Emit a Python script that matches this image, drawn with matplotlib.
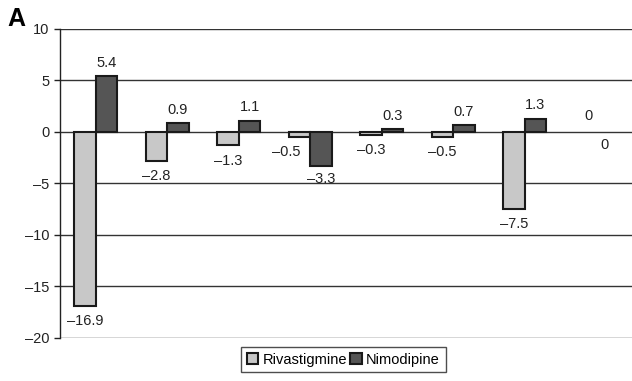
import matplotlib
matplotlib.use("Agg")
import matplotlib.pyplot as plt
import numpy as np
from matplotlib.ticker import FuncFormatter

plt.rcParams['font.family'] = ['Liberation Sans', 'DejaVu Sans']

groups = list(range(8))
rivastigmine = [-16.9, -2.8, -1.3, -0.5, -0.3, -0.5, -7.5, 0]
nimodipine = [5.4, 0.9, 1.1, -3.3, 0.3, 0.7, 1.3, 0]
riv_labels = ["\u201316.9", "\u20132.8", "\u20131.3", "\u20130.5", "\u20130.3", "\u20130.5", "\u20137.5", "0"]
nim_labels = ["5.4", "0.9", "1.1", "\u20133.3", "0.3", "0.7", "1.3", "0"]
yticks = [-20, -15, -10, -5, 0, 5, 10]

fig = plt.figure(figsize=(6.32, 3.81), dpi=100)
ax = fig.add_axes([0.095, 0.113, 0.905, 0.811])

x = np.arange(len(groups))
w = 0.3
ec_r = ['#1a1a1a' if v != 0 else 'none' for v in rivastigmine]
ec_n = ['#1a1a1a' if v != 0 else 'none' for v in nimodipine]
ax.bar(x - w/2, rivastigmine, w, color='#c8c8c8', edgecolor=ec_r, linewidth=1.5, label='Rivastigmine', zorder=3)
ax.bar(x + w/2, nimodipine, w, color='#555555', edgecolor=ec_n, linewidth=1.5, label='Nimodipine', zorder=3)

fs = 10.5
col = '#222222'
for i in x:
    r, n = rivastigmine[i], nimodipine[i]
    if r < 0:
        dx = -0.18 if n < 0 else 0
        ax.text(i - w/2 + dx, r - 0.8, riv_labels[i], ha='center', va='top', fontsize=fs, color=col)
    else:
        ax.text(i - w/2 + 0.04, r + 0.9, riv_labels[i], ha='center', va='bottom', fontsize=fs, color=col)
    if n > 0:
        ax.text(i + w/2, n + 0.6, nim_labels[i], ha='center', va='bottom', fontsize=fs, color=col)
    else:
        dx = -0.04 if n == 0 else 0
        ax.text(i + w/2 + dx, n - 0.6, nim_labels[i], ha='center', va='top', fontsize=fs, color=col)

ax.set_xlim(-0.5, len(groups) - 0.5)
ax.set_ylim(-20, 10)
ax.set_yticks(yticks)
ax.yaxis.set_major_formatter(FuncFormatter(lambda v, p: ("\u2013%d" % abs(v)) if v < 0 else "%d" % v))
ax.tick_params(axis='y', labelsize=fs, length=4, width=1, color=col, labelcolor=col)
ax.set_xticks([])
ax.grid(axis='y', color='#333333', linewidth=1, zorder=0)
for s in ['top', 'right', 'bottom']:
    ax.spines[s].set_visible(False)
ax.spines['left'].set_color(col)
ax.spines['left'].set_linewidth(1)

leg = ax.legend(loc='upper center', bbox_to_anchor=(0.495, -0.005), ncol=2, frameon=True, fancybox=False,
                fontsize=fs, handlelength=0.8, handleheight=0.8, handletextpad=0.3, columnspacing=0.2,
                borderpad=0.4, edgecolor=col)
leg.get_frame().set_linewidth(1)

fig.text(0.012, 0.932, 'A', fontsize=18, fontweight='bold')

fig.savefig('out.png', dpi=100)
